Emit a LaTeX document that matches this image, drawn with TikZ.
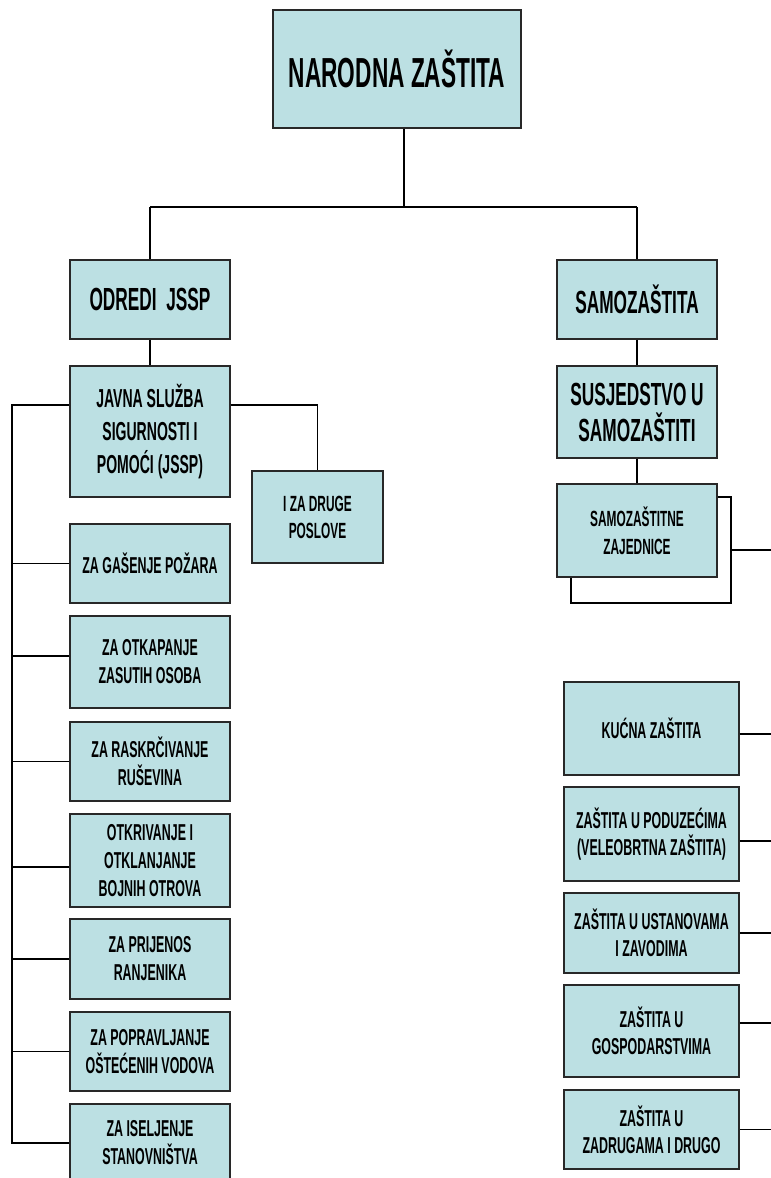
\documentclass[tikz,border=0pt]{standalone}
\usepackage{fontspec}
\newfontfamily\boxfont{Liberation Sans}[FakeStretch=0.54]
\newcommand{\bxf}[2]{\fontsize{#1}{#2}\selectfont\boxfont\bfseries}
\definecolor{boxfill}{RGB}{188,224,227}
\definecolor{boxline}{RGB}{40,40,40}
\tikzset{
  box/.style={draw=boxline, line width=1.4pt, fill=boxfill, inner sep=0pt, align=center, text=black},
  link/.style={draw=black, line width=1.3pt},
  barline/.style={draw=black, line width=2.8pt},
}
\begin{document}
\begin{tikzpicture}[x=1pt, y=-1pt]
\useasboundingbox (0,0) rectangle (771,1178);

% top levels
\node[box, minimum width=248, minimum height=118, font=\bxf{42}{48}] (top) at (397,69) {NARODNA ZAŠTITA};
\node[box, minimum width=160, minimum height=79, font=\bxf{32}{36}] (odredi) at (150,299.5) {ODREDI~~JSSP};
\node[box, minimum width=160, minimum height=79, font=\bxf{32}{36}] (samoz) at (637,299.5) {SAMOZAŠTITA};

% left branch
\node[box, minimum width=160, minimum height=131, font=\bxf{26}{33}] (jssp) at (150,431.5) {JAVNA SLUŽBA\\SIGURNOSTI I\\POMOĆI (JSSP)};
\node[box, minimum width=131, minimum height=92, font=\bxf{22}{27}] (drugi) at (317.5,517) {I ZA DRUGE\\POSLOVE};
\node[box, minimum width=160, minimum height=79, font=\bxf{23}{28}] (gas) at (150,563.5) {ZA GAŠENJE POŽARA};
\node[box, minimum width=160, minimum height=92, font=\bxf{23}{28}] (otk) at (150,662) {ZA OTKAPANJE\\ZASUTIH OSOBA};
\node[box, minimum width=160, minimum height=79, font=\bxf{23}{28}] (ras) at (150,761.5) {ZA RASKRČIVANJE\\RUŠEVINA};
\node[box, minimum width=160, minimum height=93, font=\bxf{23}{28}] (otr) at (150,860.5) {OTKRIVANJE I\\OTKLANJANJE\\BOJNIH OTROVA};
\node[box, minimum width=160, minimum height=80, font=\bxf{23}{28}] (pri) at (150,959) {ZA PRIJENOS\\RANJENIKA};
\node[box, minimum width=160, minimum height=79, font=\bxf{23}{28}] (pop) at (150,1051.5) {ZA POPRAVLJANJE\\OŠTEĆENIH VODOVA};
\node[box, minimum width=160, minimum height=78, font=\bxf{23}{28}] (ise) at (150,1143) {ZA ISELJENJE\\STANOVNIŠTVA};

% right branch
\node[box, minimum width=160, minimum height=92, font=\bxf{32}{36}] (susj) at (637,412) {SUSJEDSTVO U\\SAMOZAŠTITI};
\draw[link] (571,497) rectangle (731,603);
\node[box, minimum width=160, minimum height=93, font=\bxf{22}{28}] (szz) at (637,530.5) {SAMOZAŠTITNE\\ZAJEDNICE};
\node[box, minimum width=175, minimum height=93, font=\bxf{23}{27}] (kuc) at (651.5,728.5) {KUĆNA ZAŠTITA};
\node[box, minimum width=175, minimum height=94, font=\bxf{23}{27}] (pod) at (651.5,834) {ZAŠTITA U PODUZEĆIMA\\(VELEOBRTNA ZAŠTITA)};
\node[box, minimum width=175, minimum height=80, font=\bxf{23}{27}] (ust) at (651.5,933) {ZAŠTITA U USTANOVAMA\\I ZAVODIMA};
\node[box, minimum width=175, minimum height=92, font=\bxf{23}{27}] (gos) at (651.5,1031) {ZAŠTITA U\\GOSPODARSTVIMA};
\node[box, minimum width=175, minimum height=79, font=\bxf{23}{27}] (zad) at (651.5,1129.5) {ZAŠTITA U\\ZADRUGAMA I DRUGO};

% connectors top
\coordinate (bar) at (404,207);
\draw[barline] (top.south -| bar) -- (bar);
\draw[barline] (odredi.north |- bar) -- (samoz.north |- bar);
\draw[link] (odredi.north |- bar) -- (odredi.north);
\draw[link] (samoz.north |- bar) -- (samoz.north);
\draw[link] (odredi) -- (jssp);
\draw[link] (samoz) -- (susj);
\draw[link] (susj) -- (szz);

% left trunk
\coordinate (t0) at (12,405);
\draw[link] (jssp.west |- t0) -- (t0) -- (t0 |- ise.west) -- (ise.west);
\draw[link] (jssp.east |- t0) -| (drugi.north);
\draw[link] (gas.west) -- (t0 |- gas.west);
\draw[link] ([yshift=6pt]otk.west) coordinate (o1) -- (t0 |- o1);
\draw[link] (ras.west) -- (t0 |- ras.west);
\draw[link] ([yshift=-6.5pt]otr.west) coordinate (o2) -- (t0 |- o2);
\draw[link] (pri.west) -- (t0 |- pri.west);
\draw[link] (pop.west) -- (t0 |- pop.west);

% right stubs
\coordinate (re) at (771,0);
\coordinate (sb) at (731,550);
\draw[link] (sb) -- (sb -| re);
\draw[link] ([yshift=-5.5pt]kuc.east) coordinate (r1) -- (r1 -| re);
\draw[link] ([yshift=-7pt]pod.east) coordinate (r2) -- (r2 -| re);
\draw[link] (ust.east) -- (ust.east -| re);
\draw[link] ([yshift=8pt]gos.east) coordinate (r4) -- (r4 -| re);
\draw[link] (zad.east) -- (zad.east -| re);
\end{tikzpicture}
\end{document}
